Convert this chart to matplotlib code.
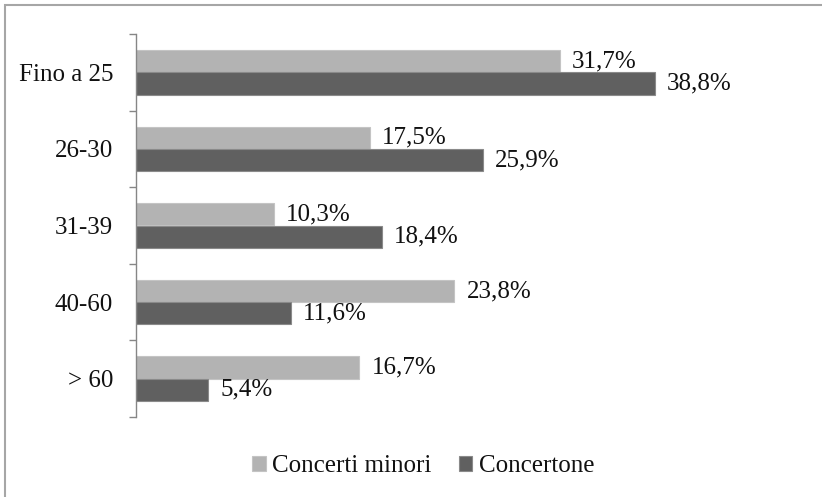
import matplotlib
matplotlib.use('Agg')
import matplotlib.pyplot as plt
import matplotlib.patches as patches
import numpy as np

plt.rcParams['font.family'] = ['Liberation Serif', 'DejaVu Serif']

categories = ['Fino a 25', '26-30', '31-39', '40-60', '> 60']
minori = [31.7, 17.5, 10.3, 23.8, 16.7]
concertone = [38.8, 25.9, 18.4, 11.6, 5.4]
series_names = ['Concerti minori', 'Concertone']

c_light = '#b3b3b3'
c_dark = '#606060'
fs = 18

W, H = 822, 497
fig = plt.figure(figsize=(W / 100, H / 100), dpi=100)
ax = fig.add_axes([136 / W, 1 - 417 / H, 669 / W, 383 / H])

y = np.arange(len(categories))
bh = 0.29
b1 = ax.barh(y - bh / 2, minori, height=bh, color=c_light,
             edgecolor='#c4c4c4', linewidth=0.8, label=series_names[0])
b2 = ax.barh(y + bh / 2, concertone, height=bh, color=c_dark,
             edgecolor='#8a8a8a', linewidth=0.8, label=series_names[1])

def fmt(v):
  return ('%.1f%%' % v).replace('.', ',')

for bars, vals in ((b1, minori), (b2, concertone)):
  for rect, v in zip(bars, vals):
    ax.text(v + 0.9, rect.get_y() + rect.get_height() / 2, fmt(v),
            va='center', ha='left', fontsize=fs, color='#111111')

ax.set_xlim(0, 50)
ax.set_ylim(len(categories) - 0.5, -0.5)
ax.set_yticks(y)
ax.set_yticklabels(categories, fontsize=fs, color='#111111')
ax.set_yticks(np.arange(len(categories) + 1) - 0.5, minor=True)
ax.tick_params(axis='y', which='major', length=0, pad=16.5)
ax.tick_params(axis='y', which='minor', length=5, color='#868686', width=1)
ax.set_xticks([])
for s in ('top', 'right', 'bottom'):
  ax.spines[s].set_visible(False)
ax.spines['left'].set_color('#868686')
ax.spines['left'].set_linewidth(1)

leg = fig.legend(handles=[b1, b2], loc='center',
                 bbox_to_anchor=(423 / W, 1 - 466 / H), ncol=2, frameon=False,
                 fontsize=fs, handlelength=0.55, handleheight=0.55,
                 handletextpad=0.25, columnspacing=1.1, borderpad=0)
for t in leg.get_texts():
  t.set_color('#111111')

# outer frame, cut off at the right and bottom edges
fig.patches.append(patches.Rectangle((5 / W, -0.1), 1.2, 1.1 - 5 / H,
                                     transform=fig.transFigure, fill=False,
                                     edgecolor='#a6a6a6', linewidth=1.5))

fig.savefig('out.png', dpi=100)
